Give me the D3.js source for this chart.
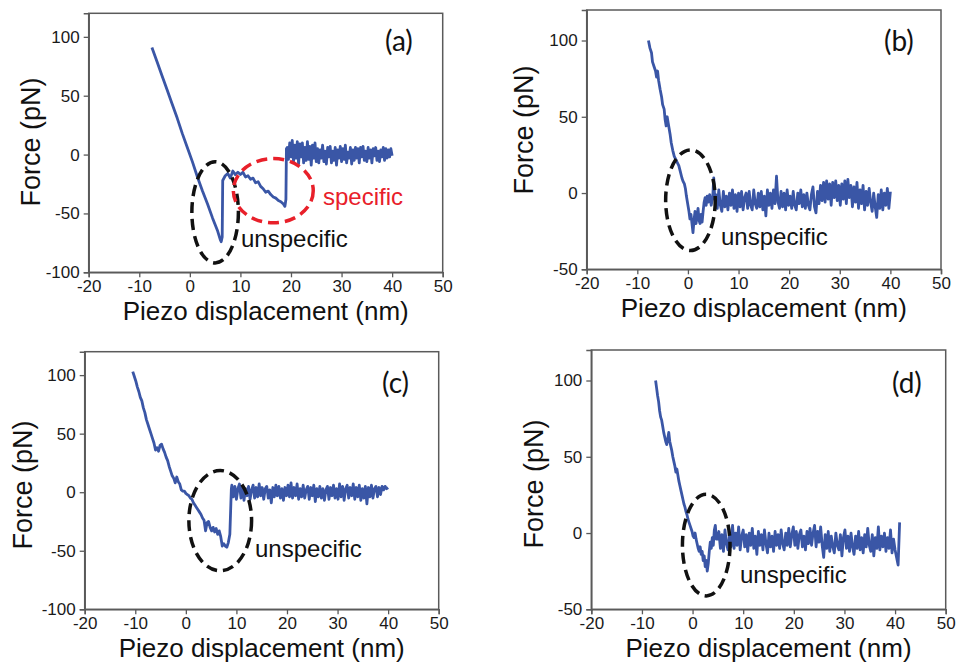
<!DOCTYPE html>
<html><head><meta charset="utf-8">
<script src="https://cdn.jsdelivr.net/npm/d3@7/dist/d3.min.js"></script>
<style>body{margin:0;background:#fff}svg{display:block}</style>
</head><body>
<svg id="c" width="957" height="664"></svg>
<script>
// ---------------- DATA ----------------
const xTicks = [-20,-10,0,10,20,30,40,50];
const yTicksWide = [-100,-50,0,50,100];
const yTicksNarrow = [-50,0,50,100];
const panelLabels = ["(a)","(b)","(c)","(d)"];
const xLabel = "Piezo displacement (nm)";
const yLabel = "Force (pN)";

// panel (a)
const aShape = [[-7.5,91],[-6.5,79],[-5.5,67],[-4.5,55],[-3.5,43],[-2.5,31],[-1.5,18],[-0.5,6],[0.5,-6],[1.5,-19],[2.5,-31],[3.5,-42],[4.5,-54],[5.5,-65],[6.0,-72],[6.2,-74],[6.4,-70],[6.5,-22],[7,-18],[7.5,-16],[8,-20],[8.5,-14],[9,-17],[9.5,-15],[10,-17],[10.5,-15],[11,-19],[11.5,-18],[12,-21],[12.5,-20],[13,-24],[13.5,-23],[14,-27],[14.5,-29],[15,-32],[15.5,-31],[16,-34],[16.5,-36],[17,-37],[17.5,-39],[18,-40],[18.5,-42],[18.8,-44],[19,-38],[19.1,5]];
const aNoiseStart = 19.25, aNoiseStep = 0.25;
const aNoise = [6,-4,10,-2,12,-6,8,-3,11,-8,9,-2,10,-7,6,-5,11,-4,7,-9,8,-3,10,-6,
  5,-7,4,-3,8,-6,3,-8,6,-2,7,-7,3,-5,6,-9,4,-3,7,-6,5,-4,8,-7,2,-3,6,-8,
  4,-5,6,-3,5,-7,6,-2,7,-5,3,-6,6,-3,4,-7,5,-1,6,-5,3,-6,4,-2,6,-5,5,-3,4,-2,5,-1];

// panel (b)
const bShape = [[-7.8,100],[-7.5,95],[-7.2,92],[-7,86],[-6.7,83],[-6.4,80],[-6.2,76],[-6,80],[-5.8,74],[-5.5,68],[-5.2,63],[-5,58],[-4.7,55],[-4.5,48],[-4.3,44],[-4.1,50],[-3.9,46],[-3.7,42],[-3.5,38],[-3.3,33],[-3,28],[-2.7,24],[-2.4,22],[-2.1,20],[-1.8,18],[-1.5,14],[-1.2,10],[-1,8],[-0.7,6],[-0.5,3],[-0.3,-2],[0,-8],[0.2,-12],[0.4,-17],[0.6,-14],[0.8,-20],[1,-26],[1.2,-18],[1.4,-12],[1.6,-20],[1.8,-15],[2,-10],[2.2,-18],[2.4,-20],[2.6,-14],[2.8,-19],[3,-12],[3.2,-6],[3.4,-3],[3.6,-8],[3.8,-2],[4,-6],[4.3,-1],[4.6,-8],[4.9,-3],[5.1,10],[5.3,-4]];
const bNoiseStart = 5.5, bNoiseStep = 0.3;
const bNoise = [-1,-10,2,-8,-12,1,-9,-2,-11,0,
  -8,2,-10,-1,-12,0,-9,1,-11,-3,
  0,-10,1,-8,-11,2,-7,-10,0,-9,
  1,-11,-2,-15,2,-8,0,-10,2,-7,
  11,-6,-10,1,-9,0,-11,2,-8,-2,
  -10,1,-8,-11,0,-7,2,-9,-1,-10,
  0,-8,-11,-1,4,-9,-13,1,-7,5,
  -5,7,-6,8,-4,6,-8,7,-3,8,
  -5,5,-8,6,-4,8,-7,9,-3,5,
  -9,4,-6,7,-10,2,-7,5,-11,1,
  -8,3,-6,-12,0,-9,-16,-1,-10,2,
  -11,0,-8,3,-10,1];

// panel (c)
const cShape = [[-10.5,103],[-10.2,99],[-9.9,95],[-9.6,90],[-9.3,86],[-9,81],[-8.7,78],[-8.4,72],[-8.1,68],[-7.8,62],[-7.5,58],[-7.2,54],[-6.9,50],[-6.6,46],[-6.3,42],[-6,36],[-5.7,38],[-5.4,35],[-5.1,40],[-4.8,41],[-4.5,37],[-4.2,34],[-3.9,30],[-3.6,27],[-3.3,22],[-3,18],[-2.7,14],[-2.4,12],[-2.1,8],[-1.8,13],[-1.5,9],[-1.2,7],[-0.9,2],[-0.6,1],[-0.3,1],[0,-1],[0.3,-2],[0.6,-3],[0.9,-5],[1.2,-6],[1.5,-9],[1.8,-11],[2.1,-13],[2.4,-15],[2.7,-17],[3,-19],[3.3,-22],[3.6,-24],[3.9,-33],[4.2,-26],[4.5,-25],[4.8,-30],[5.1,-33],[5.4,-30],[5.7,-34],[6,-31],[6.3,-36],[6.6,-33],[6.9,-38],[7.2,-46],[7.5,-44],[7.8,-46],[8.1,-47],[8.4,-43],[8.7,-36],[8.9,-10],[9,3]];
const cNoiseStart = 9.1, cNoiseStep = 0.3;
const cNoise = [6,-4,5,-6,3,7,-5,4,-7,3,
  -3,5,-6,2,6,-5,4,-4,7,-3,
  4,-6,3,5,-5,2,-9,4,-4,6,
  -3,5,-5,3,-7,4,-3,6,-4,8,
  -5,4,-3,7,-6,3,-4,6,-5,2,
  5,-6,4,-3,6,-8,3,-4,5,-5,
  3,-7,2,5,-6,4,-3,6,-5,3,
  -6,7,-4,5,-7,3,6,-5,4,-3,
  7,-6,4,-4,6,-7,3,-5,5,-10,
  4,-4,6,-5,3,5,-4,4,-2,5,
  2,5,3,4];

// panel (d)
const dShape = [[-7.3,100],[-7.1,95],[-6.9,90],[-6.7,86],[-6.5,80],[-6.3,76],[-6.1,74],[-5.9,70],[-5.7,66],[-5.5,63],[-5.3,60],[-5.1,58],[-4.9,62],[-4.7,66],[-4.5,60],[-4.3,57],[-4.1,54],[-3.9,50],[-3.7,47],[-3.5,44],[-3.3,40],[-3.1,42],[-2.9,38],[-2.7,34],[-2.5,31],[-2.3,28],[-2.1,25],[-1.9,22],[-1.7,19],[-1.5,17],[-1.3,14],[-1.1,12],[-0.9,9],[-0.7,7],[-0.5,5],[-0.3,3],[-0.1,1],[0.1,-2],[0.3,-3],[0.5,0],[0.7,-4],[0.9,-7],[1.1,-10],[1.3,-12],[1.5,-9],[1.7,-14],[1.9,-12],[2.1,-18],[2.3,-15],[2.5,-22],[2.7,-18],[2.9,-25],[3.1,-20],[3.3,-12],[3.5,-6],[3.7,-10],[3.9,-3],[4.1,-8],[4.3,2],[4.5,5],[4.7,-4]];
const dNoiseStart = 4.9, dNoiseStep = 0.3;
const dNoise = [-4,1,-10,-1,-12,2,-7,-11,0,-9,
  5,-10,0,-8,4,-11,-2,2,-9,-1,
  -12,0,-8,3,-10,-2,-14,1,-8,-1,
  -11,2,-7,-13,0,-9,-2,-12,1,-8,
  -1,-10,2,-7,-11,0,-8,3,-9,-1,
  4,-8,1,-10,-1,2,-9,-2,-11,1,
  -7,3,-8,0,5,-9,1,-6,4,-8,
  -16,-1,-10,1,-12,-2,-9,-13,0,-8,
  -11,-1,-15,-3,2,-10,-2,-12,0,-9,
  -14,-2,-10,1,-11,-3,-13,-1,-9,3,
  -8,-12,-1,-15,-3,-10,4,-11,-2,-9,
  0,-12,-3,-10,2,-13,-4,-11,-16,-21,
  7];

// annotation ellipses in data units: [cx, cy, rx, ry]
const ellA1 = [5.0,-49,4.6,43];
const ellA2 = [16.5,-30.7,7.9,27.3];
const ellB = [0.5,-4.7,4.9,33];
const ellC = [6.8,-24.3,6.2,42.8];
const ellD = [2.7,-7.9,4.7,33.3];

// ---------------- LAYOUT ----------------
const panels = [
  {shape:aShape, ns:aNoiseStart, st:aNoiseStep, noise:aNoise, yDom:[-100,120], yT:yTicksWide,
   box:[88.7,13.3,442.7,272.3], yLabX:40, yLabY:142, lab:[385,51],
   ells:[{e:ellA1,c:"#111"},{e:ellA2,c:"#e8202a"}],
   texts:[{t:"unspecific",x:241,y:247,c:"#111"},{t:"specific",x:323,y:205,c:"#e8202a"}]},
  {shape:bShape, ns:bNoiseStart, st:bNoiseStep, noise:bNoise, yDom:[-50,120], yT:yTicksNarrow,
   box:[586.7,10,941,269.3], yLabX:533, yLabY:130, lab:[884,51],
   ells:[{e:ellB,c:"#111"}], texts:[{t:"unspecific",x:721,y:245,c:"#111"}]},
  {shape:cShape, ns:cNoiseStart, st:cNoiseStep, noise:cNoise, yDom:[-100,120], yT:yTicksWide,
   box:[84.7,351.7,438.7,609.3], yLabX:32, yLabY:485, lab:[382,393],
   ells:[{e:ellC,c:"#111"}], texts:[{t:"unspecific",x:255,y:557,c:"#111"}]},
  {shape:dShape, ns:dNoiseStart, st:dNoiseStep, noise:dNoise, yDom:[-50,120], yT:yTicksNarrow,
   box:[591.3,350,945.7,609.3], yLabX:543, yLabY:484, lab:[892,393],
   ells:[{e:ellD,c:"#111"}], texts:[{t:"unspecific",x:740,y:583,c:"#111"}]}
];

const svg = d3.select("#c");
const FONT = "'Liberation Sans', Arial, sans-serif";

panels.forEach((p,i)=>{
  const [x0,y0,x1,y1] = p.box;
  const x = d3.scaleLinear().domain([-20,50]).range([x0,x1]);
  const y = d3.scaleLinear().domain(p.yDom).range([y1,y0]);
  const g = svg.append("g");

  // frame
  g.append("rect").attr("x",x0).attr("y",y0).attr("width",x1-x0).attr("height",y1-y0)
   .attr("fill","none").attr("stroke","#5a5a5a").attr("stroke-width",1.5);

  // axes
  const xa = g.append("g").attr("transform",`translate(0,${y1})`)
    .call(d3.axisBottom(x).tickValues(xTicks).tickSize(5).tickPadding(3).tickFormat(d3.format("d")));
  const ya = g.append("g").attr("transform",`translate(${x0},0)`)
    .call(d3.axisLeft(y).tickValues(p.yT).tickSize(5).tickPadding(4).tickFormat(d3.format("d")));
  [xa,ya].forEach(a=>{
    a.select(".domain").attr("stroke","#5a5a5a").attr("stroke-width",1.5);
    a.selectAll(".tick line").attr("stroke","#5a5a5a").attr("stroke-width",1.3);
    a.selectAll(".tick text").attr("font-family",FONT).attr("font-size",17).attr("fill","#1a1a1a");
  });
  xa.selectAll(".tick text").text(d=>d<0?"-"+Math.abs(d):d);
  ya.selectAll(".tick text").text(d=>d<0?"-"+Math.abs(d):d);

  // data line
  const pts = p.shape.concat(p.noise.map((v,k)=>[p.ns+k*p.st, v]));
  g.append("path").datum(pts)
    .attr("d", d3.line().x(d=>x(d[0])).y(d=>y(d[1])))
    .attr("fill","none").attr("stroke","#3a56a6").attr("stroke-width",2.8)
    .attr("stroke-linejoin","round");

  // ellipses
  p.ells.forEach(o=>{
    const [cx,cy,rx,ry] = o.e;
    g.append("ellipse").attr("cx",x(cx)).attr("cy",y(cy))
      .attr("rx",x(cx+rx)-x(cx)).attr("ry",y(cy)-y(cy+ry))
      .attr("fill","none").attr("stroke",o.c).attr("stroke-width",3.5)
      .attr("stroke-dasharray","11,6");
  });

  // annotation texts
  p.texts.forEach(t=>{
    g.append("text").attr("x",t.x).attr("y",t.y).text(t.t)
      .attr("font-family",FONT).attr("font-size",24).attr("fill",t.c);
  });

  // panel label
  g.append("text").attr("x",p.lab[0]).attr("y",p.lab[1]).text(panelLabels[i])
    .attr("font-family","Lato, 'Open Sans', sans-serif").attr("font-size",28).attr("fill","#111");

  // axis labels
  g.append("text").attr("x",(x0+x1)/2).attr("y",y1+48).attr("text-anchor","middle")
    .attr("font-family",FONT).attr("font-size",26).attr("fill","#111").text(xLabel);
  g.append("text").attr("transform",`translate(${p.yLabX},${p.yLabY}) rotate(-90)`)
    .attr("text-anchor","middle").attr("font-family",FONT).attr("font-size",27).attr("fill","#111").text(yLabel);
});
</script>
</body></html>
